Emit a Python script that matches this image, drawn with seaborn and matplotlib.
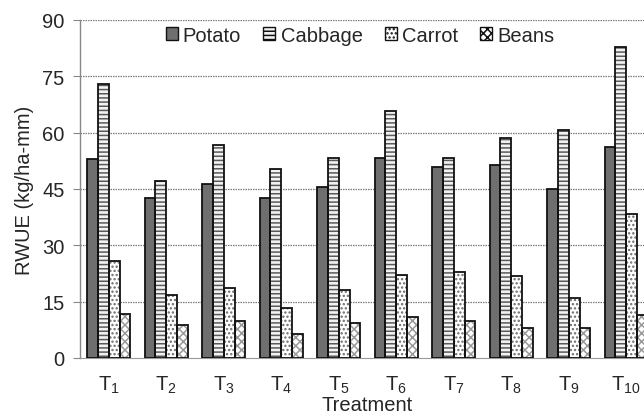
import pandas as pd
import matplotlib
matplotlib.use("Agg")
import matplotlib.pyplot as plt
from matplotlib.patches import Rectangle
import seaborn as sns

treatments = [f"T{i}" for i in range(1, 11)]
tick_labels = [r"$\mathregular{T_{%d}}$" % i for i in range(1, 11)]
crops = ["Potato", "Cabbage", "Carrot", "Beans"]

potato = [53.1, 42.7, 46.2, 42.7, 45.6, 53.3, 50.9, 51.5, 45.0, 56.3]
cabbage = [72.9, 47.1, 56.6, 50.3, 53.3, 65.7, 53.3, 58.7, 60.8, 82.8]
carrot = [25.9, 16.9, 18.7, 13.2, 18.0, 22.0, 22.9, 21.8, 15.9, 38.4]
beans = [11.6, 8.7, 9.9, 6.3, 9.3, 10.8, 9.9, 8.1, 8.1, 11.5]

y_ticks = [0, 15, 30, 45, 60, 75, 90]

# fill, hatch colour, hatch pattern per crop
styles = {
    "Potato": ("#6f6f6f", "#6f6f6f", ""),
    "Cabbage": ("#f2f2f2", "#5a5a5a", "----"),
    "Carrot": ("#ffffff", "#6a6a6a", "...."),
    "Beans": ("#ffffff", "#9a9a9a", "xxxx"),
}

df = pd.DataFrame({
    "Treatment": treatments * 4,
    "Crop": [c for c in crops for _ in treatments],
    "RWUE": potato + cabbage + carrot + beans,
})

sns.set_style("white")
plt.rcParams["font.family"] = ["Liberation Sans", "DejaVu Sans"]
plt.rcParams["mathtext.fontset"] = "custom"
plt.rcParams["mathtext.rm"] = "Liberation Sans"
plt.rcParams["hatch.linewidth"] = 1.1
text_col = "#262626"
fs = 14.5

fig = plt.figure(figsize=(6.44, 4.14), dpi=100)
ax = fig.add_axes([80 / 644, 55 / 414, 575 / 644, 338 / 414])

sns.barplot(data=df, x="Treatment", y="RWUE", hue="Crop", hue_order=crops,
            palette={c: styles[c][0] for c in crops}, width=0.75, gap=0,
            ax=ax, legend=False, zorder=3)

bars = [p for p in ax.patches if isinstance(p, Rectangle)]
handles = []
for i, crop in enumerate(crops):
    face, hcol, hatch = styles[crop]
    for p in bars[i * len(treatments):(i + 1) * len(treatments)]:
        p.set_facecolor(face)
        p.set_edgecolor(hcol)
        p.set_hatch(hatch)
        p.set_linewidth(0)
        ax.add_patch(Rectangle(p.get_xy(), p.get_width(), p.get_height(),
                               fill=False, edgecolor="#111111", lw=1.3, zorder=4))
    handles.append(Rectangle((0, 0), 1, 1, facecolor=face, edgecolor="#111111",
                             lw=1.0, hatch=hatch))

ax.set_ylim(0, 90)
ax.set_xlim(-0.5, 9.5)
ax.set_yticks(y_ticks)
ax.set_yticklabels([str(v) for v in y_ticks], fontsize=fs, color=text_col)
ax.set_xticks(range(len(treatments)))
ax.set_xticklabels(tick_labels, fontsize=fs, color=text_col)
ax.set_xticks([i + 0.5 for i in range(len(treatments))], minor=True)
ax.tick_params(axis="x", which="major", length=0, pad=11)
ax.tick_params(axis="x", which="minor", length=4, color="#888888", direction="out")
ax.tick_params(axis="y", length=5, color="#888888", direction="out", pad=6, left=True)

for y in y_ticks[1:]:
    ax.axhline(y, color="#7a7a7a", lw=0.9, ls=(0, (1.2, 0.8)), zorder=1)

sns.despine(ax=ax, top=True, right=True)
ax.spines["left"].set_color("#888888")
ax.spines["bottom"].set_color("#999999")
ax.spines["left"].set_linewidth(1.0)

ax.set_xlabel("Treatment", fontsize=fs, color=text_col, labelpad=0)
ax.set_ylabel("RWUE (kg/ha-mm)", fontsize=fs, color=text_col, labelpad=6)

ax.legend(handles, crops, loc="center", bbox_to_anchor=(0.487, 0.955),
          ncol=4, frameon=False, fontsize=fs, handlelength=0.6, handleheight=0.6,
          handletextpad=0.25, columnspacing=1.1, labelcolor=text_col)

fig.savefig("out.png", dpi=100)
